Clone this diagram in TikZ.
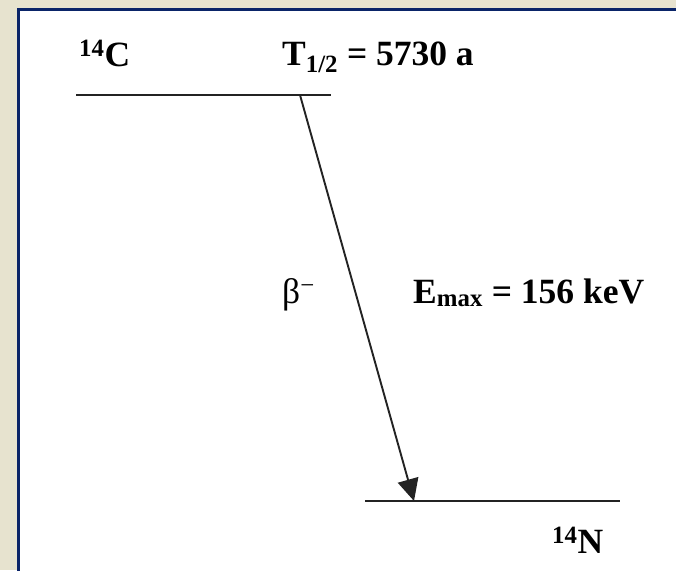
\documentclass[tikz,border=0pt]{standalone}
\usepackage{fontspec}
\setmainfont{Liberation Serif}
\usetikzlibrary{arrows.meta}
\definecolor{parch}{RGB}{231,227,207}
\definecolor{navy}{RGB}{10,36,104}
\definecolor{lvl}{RGB}{35,35,35}
\begin{document}
\begin{tikzpicture}[x=1pt,y=-1pt,
  lbl/.style={inner sep=0pt,anchor=base west,font=\fontsize{35.5}{42}\selectfont\bfseries},
  lblr/.style={inner sep=0pt,anchor=base west,font=\fontsize{35.5}{42}\selectfont},
  level/.style={draw=lvl,line width=2.2pt},
  decay/.style={draw=lvl,line width=1.9pt,-{Triangle[length=22pt,width=21pt]}}]
\useasboundingbox (0,0) rectangle (676,570);
\fill[parch] (0,0) rectangle (676,570);
\filldraw[fill=white,draw=navy,line width=3pt] (18.5,9.5) rectangle (690,590);
% levels
\coordinate (c14l) at (76,95);
\coordinate (c14r) at (331,95);
\coordinate (n14l) at (365,501);
\coordinate (n14r) at (620,501);
\coordinate (src) at (300,95);
\coordinate (dst) at (414,501);
\draw[level] (c14l) -- (c14r);
\draw[level] (n14l) -- (n14r);
\draw[decay] (src) -- (dst);
% labels
\node[lbl] (c14) at (79,66) {\textsuperscript{14}C};
\node[lbl] (thalf) at (282,65) {T\textsubscript{1/2} = 5730 a};
\node[lblr] (beta) at (282,303) {β\textsuperscript{−}};
\node[lbl] (emax) at (413,303) {E\textsubscript{max} = 156 keV};
\node[lbl] (n14) at (552,553) {\textsuperscript{14}N};
\end{tikzpicture}
\end{document}
